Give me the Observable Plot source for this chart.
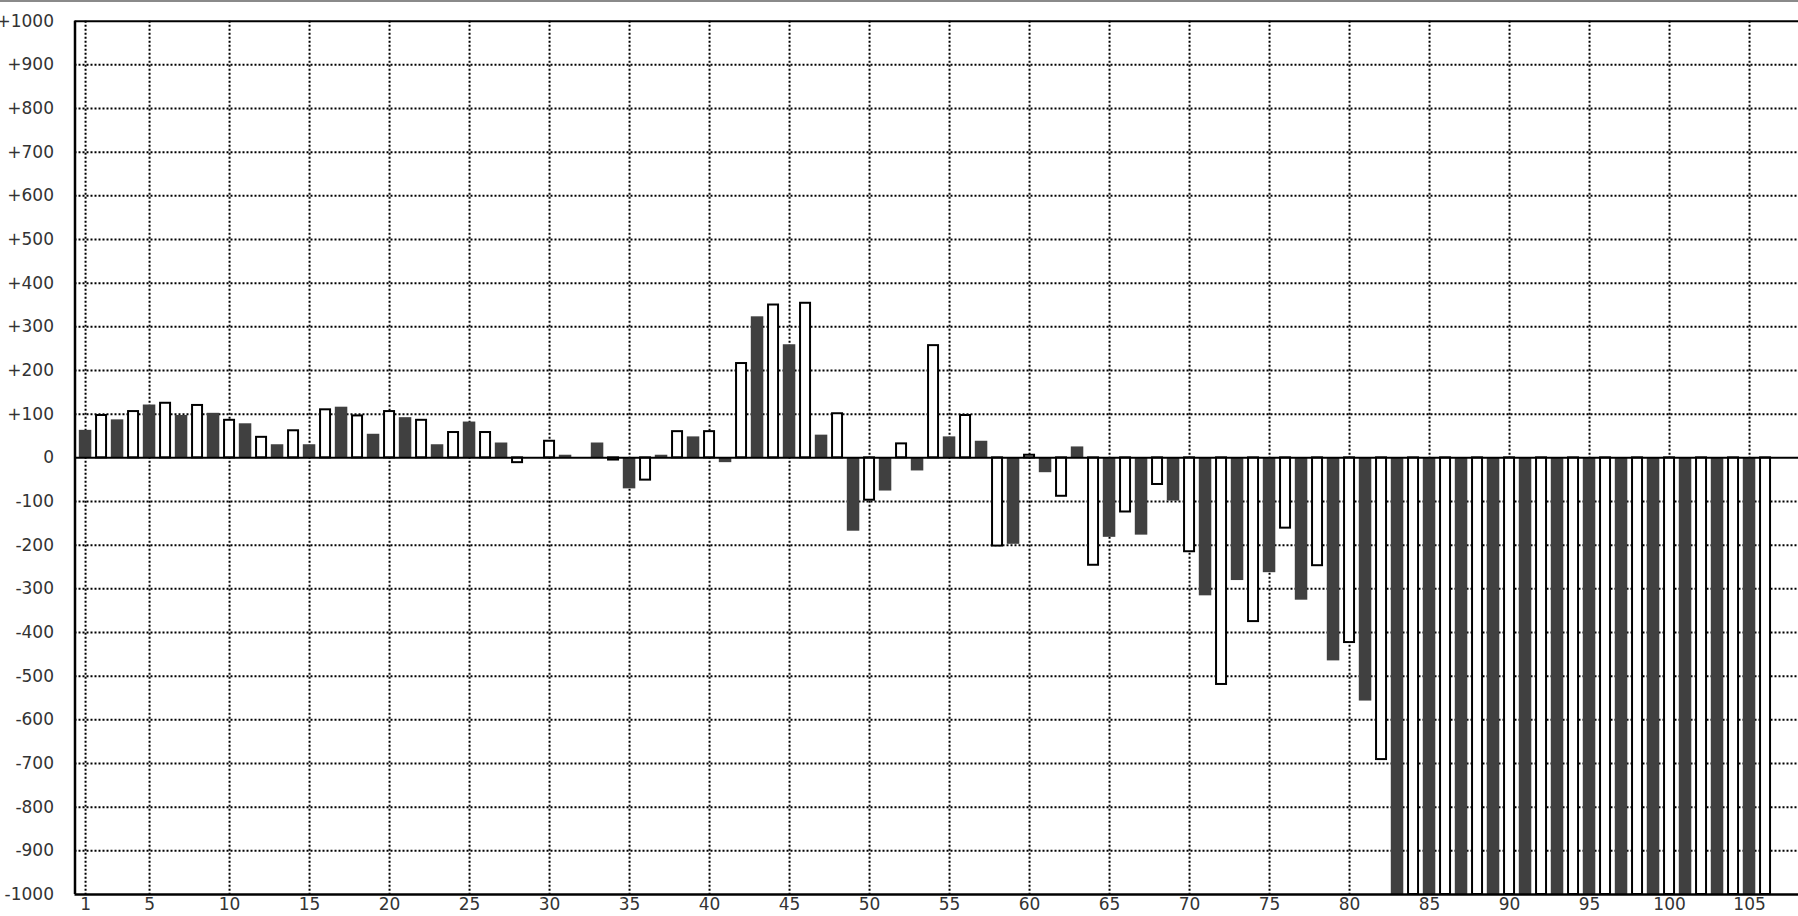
<!DOCTYPE html>
<html><head><meta charset="utf-8">
<script src="https://cdn.jsdelivr.net/npm/d3@7"></script>
<script src="https://cdn.jsdelivr.net/npm/@observablehq/plot@0.6"></script>
<style>
html,body{margin:0;padding:0;background:#fff;overflow:hidden}
#topline{height:2px;background:#8a8a8a}
#chart svg{display:block}
</style></head><body>
<div id="topline"></div>
<div id="chart"></div>
<script>
// Positions 1..106
const positions = d3.range(1, 107);
// Values per position (odd = dark bars, even = white bars); 83..106 run off the bottom of the chart
const values = [
  63, 97, 87, 106, 121, 125, 97, 120, 102, 86,
  78, 47, 30, 62, 30, 110, 116, 96, 54, 106,
  92, 86, 30, 58, 82, 58, 34, -11, -1, 38,
  6, 0, 34, -5, -71, -51, 6, 60, 48, 60,
  -11, 216, 323, 350, 259, 354, 52, 101, -168, -97,
  -76, 32, -30, 257, 48, 97, 38, -202, -198, 6,
  -34, -88, 25, -246, -182, -124, -177, -61, -99, -215,
  -316, -519, -281, -375, -263, -161, -326, -247, -465, -423,
  -557, -691, -1000, -1000, -1000, -1000, -1000, -1000, -1000, -1000,
  -1000, -1000, -1000, -1000, -1000, -1000, -1000, -1000, -1000, -1000,
  -1000, -1000, -1000, -1000, -1000, -1000
];
const xTicks = [1, 5, 10, 15, 20, 25, 30, 35, 40, 45, 50, 55, 60, 65, 70, 75, 80, 85, 90, 95, 100, 105];
const yTicks = d3.range(-1000, 1001, 100);
const xDomain = [0.34, 108.06];
const yDomain = [-1000, 1000];

const data = positions.map((p, i) => ({p, v: values[i], dark: p % 2 === 1}));
const darkBars = data.filter(d => d.dark);
const whiteBars = data.filter(d => !d.dark);
const gridY = yTicks.filter(v => v !== 0 && Math.abs(v) !== 1000);

const fmtY = d => d > 0 ? "+" + d : d < 0 ? "-" + (-d) : "0";

const chart = Plot.plot({
  width: 1798,
  height: 914,
  marginLeft: 74.5,
  marginRight: 0,
  marginTop: 18.7,
  marginBottom: 22,
  x: {domain: xDomain},
  y: {domain: yDomain},
  style: {fontFamily: "DejaVu Sans", fontSize: "17px", color: "#333", background: "#fff"},
  marks: [
    Plot.ruleX(xTicks, {stroke: "#000", strokeWidth: 2, strokeDasharray: "2,2"}),
    Plot.ruleY(gridY, {stroke: "#000", strokeWidth: 2, strokeDasharray: "2,2"}),
    Plot.rectY(darkBars, {x1: d => d.p - 0.5, x2: d => d.p + 0.5, y1: 0, y2: "v", fill: "#404040", insetLeft: 1.75, insetRight: 1.75}),
    Plot.rectY(whiteBars, {x1: d => d.p - 0.5, x2: d => d.p + 0.5, y1: 0, y2: "v", fill: "#fff", stroke: "#000", strokeWidth: 2, insetLeft: 3, insetRight: 3}),
    Plot.ruleY([0], {stroke: "#000", strokeWidth: 2}),
    Plot.ruleY([yDomain[1]], {stroke: "#000", strokeWidth: 2}),
    Plot.ruleY([yDomain[0]], {stroke: "#000", strokeWidth: 2.5}),
    Plot.ruleX([xDomain[0]], {stroke: "#000", strokeWidth: 2.5}),
    Plot.axisY({ticks: yTicks, tickSize: 0, tickPadding: 21, tickFormat: fmtY, label: null}),
    Plot.axisX({ticks: xTicks, tickSize: 0, tickPadding: 3, tickFormat: d => String(d), label: null})
  ]
});
document.getElementById("chart").appendChild(chart);
</script>
</body></html>
